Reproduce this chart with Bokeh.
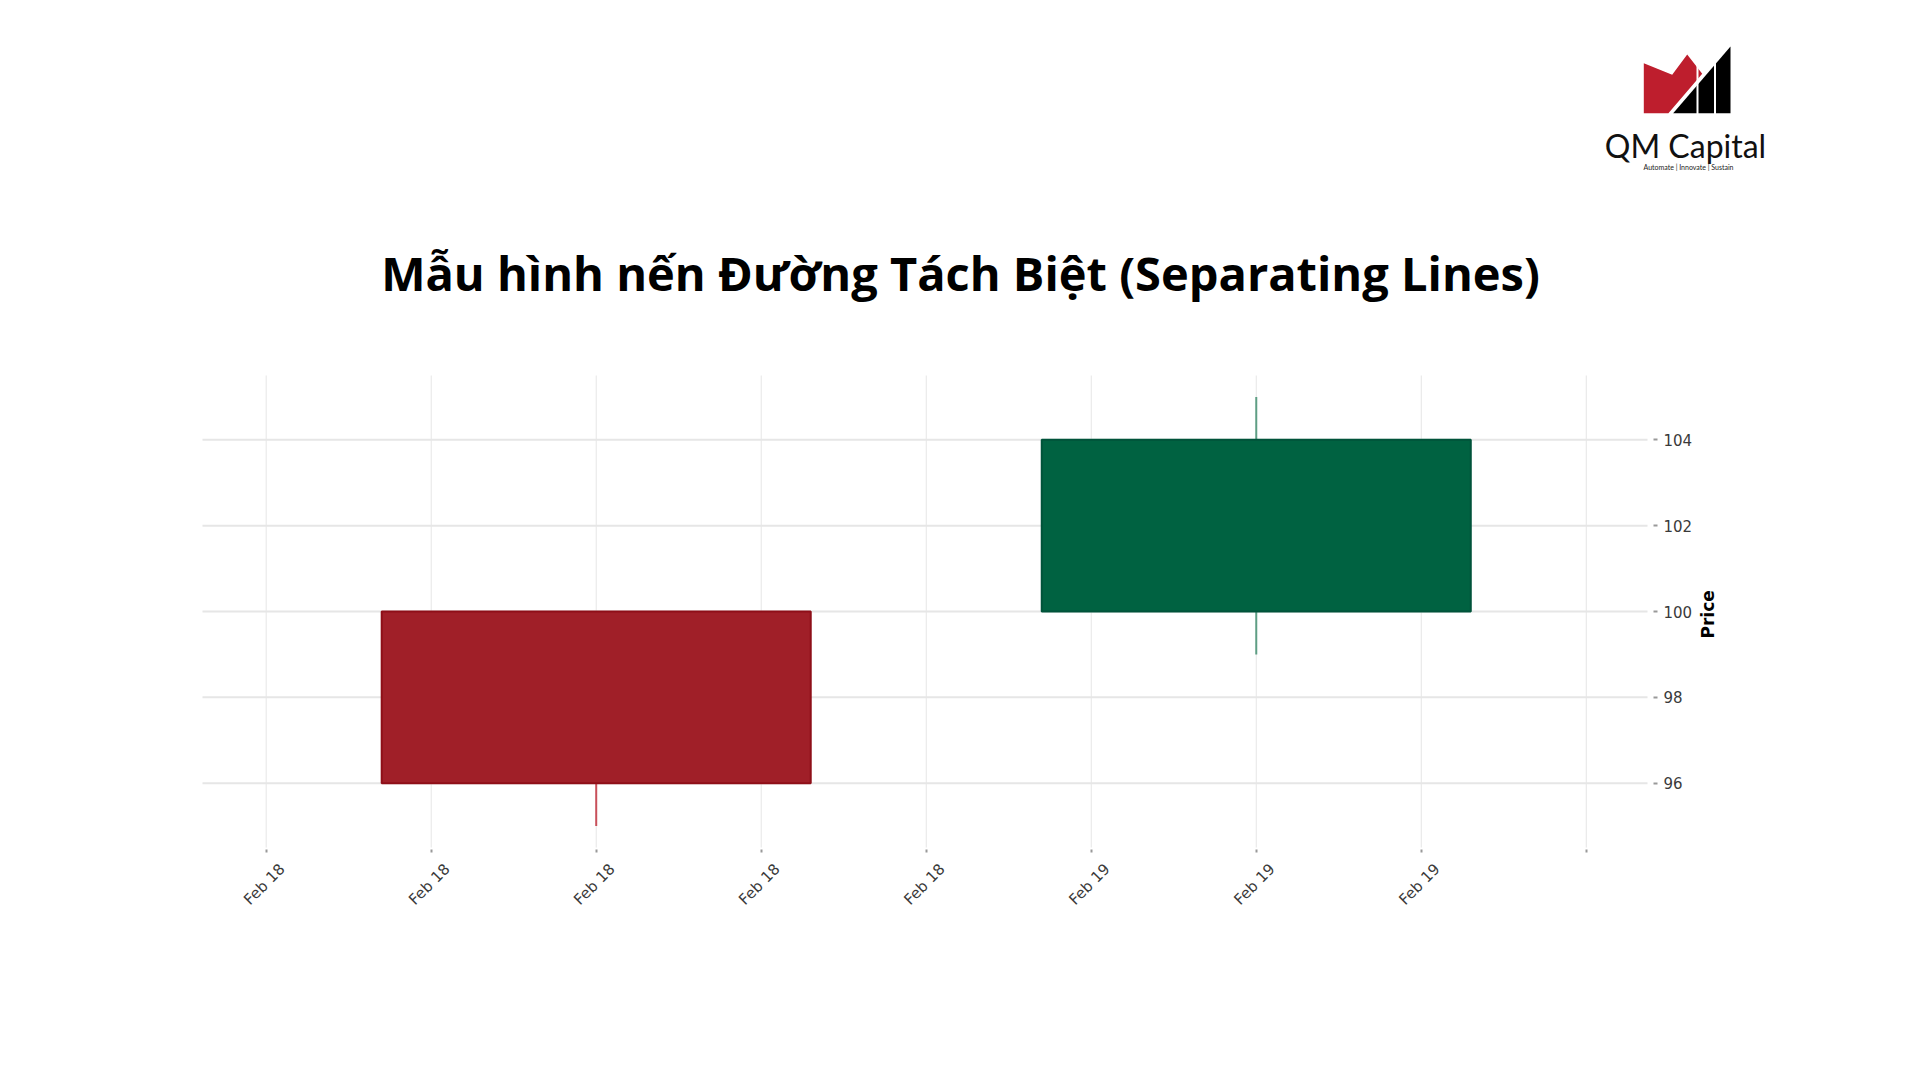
import math
from bokeh.plotting import figure
from bokeh.models import Range1d, FixedTicker, ColumnDataSource, LinearAxis
from bokeh.core.properties import value
from bokeh.embed import file_html
from bokeh.resources import INLINE

# ---------------- data ----------------
candle_dates = ["Feb 18", "Feb 19"]
candle_pos = [2, 6]            # position on the tick grid
opens = [100, 100]
highs = [100, 105]
lows = [95, 99]
closes = [96, 104]

x_tick_pos = [0, 1, 2, 3, 4, 5, 6, 7, 8]
x_tick_labels = ["Feb 18", "Feb 18", "Feb 18", "Feb 18", "Feb 18",
                 "Feb 19", "Feb 19", "Feb 19", ""]
y_ticks = [96, 98, 100, 102, 104]

title_text = "Mẫu hình nến Đường Tách Biệt (Separating Lines)"
brand_name = "QM Capital"
brand_tagline = "Automate | Innovate | Sustain"

# ---------------- styles / layout ----------------
UP_FILL, UP_EDGE, UP_WICK = "#006241", "#00533A", "#5E9E84"
DN_FILL, DN_EDGE, DN_WICK = "#A01F28", "#8E0F18", "#C8505A"
GRID = "#E6E6E6"
TICK_TXT = "#3A3A3A"

FRAME_W, FRAME_H = 1800, 940          # drawing area (page pixels)
CHART_X = (-0.386, 8.371)              # chart area in data units ...
CHART_PX = (202, 1647)                 # ... and in page pixels
CHART_Y = (94.5, 105.5)
CHART_PY = (847, 375)


def _lin(v0, v1, p0, p1, p):
    return v0 + (v1 - v0) * (p - p0) / (p1 - p0)


x_range = Range1d(_lin(*CHART_X, *CHART_PX, 0), _lin(*CHART_X, *CHART_PX, FRAME_W))
y_range = Range1d(_lin(*CHART_Y, *CHART_PY, FRAME_H), _lin(*CHART_Y, *CHART_PY, 0))

p = figure(frame_width=FRAME_W, frame_height=FRAME_H, x_range=x_range, y_range=y_range,
           title=None, y_axis_location="right",
           min_border_left=0, min_border_top=0, min_border_right=10, min_border_bottom=10,
           output_backend="svg", toolbar_location=None)
p.extra_x_ranges = {"px": Range1d(0, FRAME_W)}
p.extra_y_ranges = {"py": Range1d(FRAME_H, 0)}
p.outline_line_color = None
p.background_fill_color = "white"
p.border_fill_color = "white"
p.grid.visible = False

# ---------------- grid lines ----------------
p.segment(x0=x_tick_pos, x1=x_tick_pos, y0=[CHART_Y[0]] * len(x_tick_pos),
          y1=[CHART_Y[1]] * len(x_tick_pos), line_color=GRID, line_width=1)
p.segment(x0=[CHART_X[0]] * len(y_ticks), x1=[CHART_X[1]] * len(y_ticks),
          y0=y_ticks, y1=y_ticks, line_color=GRID, line_width=2)

# ---------------- axes ----------------
xa = p.xaxis[0]
xa.fixed_location = CHART_Y[0]
xa.bounds = CHART_X
xa.ticker = FixedTicker(ticks=x_tick_pos)
xa.major_label_overrides = {t: "" for t in x_tick_pos}
xa.axis_line_color = None
xa.minor_tick_line_color = None
xa.major_tick_line_color = "#999999"
xa.major_tick_line_width = 2
xa.major_tick_in = -2
xa.major_tick_out = 5
xa.major_label_standoff = 0

shift = 0.097
label_pos = [t + shift for t in x_tick_pos]
xl = LinearAxis(ticker=FixedTicker(ticks=label_pos), fixed_location=CHART_Y[0],
                major_label_overrides={lp: lab for lp, lab in zip(label_pos, x_tick_labels)},
                major_label_orientation=math.pi / 4,
                axis_line_color=None, minor_tick_line_color=None,
                major_tick_line_color=None, major_tick_in=0, major_tick_out=0,
                major_label_standoff=19,
                major_label_text_font="DejaVu Sans",
                major_label_text_font_size="15px",
                major_label_text_color=TICK_TXT)
p.add_layout(xl, "below")

ya = p.yaxis[0]
ya.fixed_location = CHART_X[1]
ya.bounds = (93.24, CHART_Y[1])
ya.ticker = FixedTicker(ticks=y_ticks)
ya.axis_line_color = None
ya.minor_tick_line_color = None
ya.major_tick_line_color = "#999999"
ya.major_tick_line_width = 2
ya.major_tick_in = -6
ya.major_tick_out = 10
ya.major_label_standoff = 6
ya.major_label_text_font = "DejaVu Sans"
ya.major_label_text_font_size = "15px"
ya.major_label_text_color = TICK_TXT
ya.axis_label = "Price"
ya.axis_label_text_font = "DejaVu Sans"
ya.axis_label_text_font_style = "bold"
ya.axis_label_text_font_size = "17px"
ya.axis_label_text_color = "#000000"
ya.axis_label_standoff = 13
try:
    ya.axis_label_orientation = math.pi / 2
except Exception:
    pass

# ---------------- candles ----------------
is_up = [c >= o for o, c in zip(opens, closes)]
src = ColumnDataSource(dict(
    x=candle_pos,
    date=candle_dates,
    low=lows,
    high=highs,
    top=[max(o, c) for o, c in zip(opens, closes)],
    bottom=[min(o, c) for o, c in zip(opens, closes)],
    fill=[UP_FILL if u else DN_FILL for u in is_up],
    edge=[UP_EDGE if u else DN_EDGE for u in is_up],
    wick=[UP_WICK if u else DN_WICK for u in is_up],
))
p.segment(x0="x", y0="low", x1="x", y1="high", line_color="wick", line_width=2, source=src)
p.vbar(x="x", width=2.6, top="top", bottom="bottom", fill_color="fill",
       line_color="edge", line_width=2, source=src)

# ---------------- title (page pixel coordinates) ----------------
p.text(x=[960], y=[272], text=[title_text], x_range_name="px", y_range_name="py",
       text_font=value("Open Sans"), text_font_style="bold", text_font_size="47px",
       text_align="center", text_baseline="middle", text_color="#000000")

# ---------------- logo (page pixel coordinates) ----------------
red_x = [1643.3, 1671.7, 1686.7, 1701.7, 1667.9, 1643.3]
red_y = [62.7, 74.3, 54.0, 73.3, 112.7, 112.7]
blk_x = [1672.7, 1730.0, 1730.0]
blk_y = [112.7, 46.0, 112.7]
p.patch(red_x, red_y, x_range_name="px", y_range_name="py",
        fill_color="#BE1E2D", line_color=None)
p.patch(blk_x, blk_y, x_range_name="px", y_range_name="py",
        fill_color="#000000", line_color=None)
p.quad(left=[1696.0, 1713.5], right=[1698.0, 1715.5], top=[40, 40], bottom=[114, 114],
       x_range_name="px", y_range_name="py", fill_color="white", line_color=None)
p.text(x=[1685], y=[145], text=[brand_name], x_range_name="px", y_range_name="py",
       text_font=value("Lato"), text_font_size="32px", text_align="center",
       text_baseline="alphabetic", text_color="#111111")
p.text(x=[1688], y=[166], text=[brand_tagline], x_range_name="px", y_range_name="py",
       text_font=value("Lato"), text_font_size="7px", text_align="center",
       text_baseline="middle", text_color="#222222")

open("out.html", "w").write(file_html(p, INLINE))
